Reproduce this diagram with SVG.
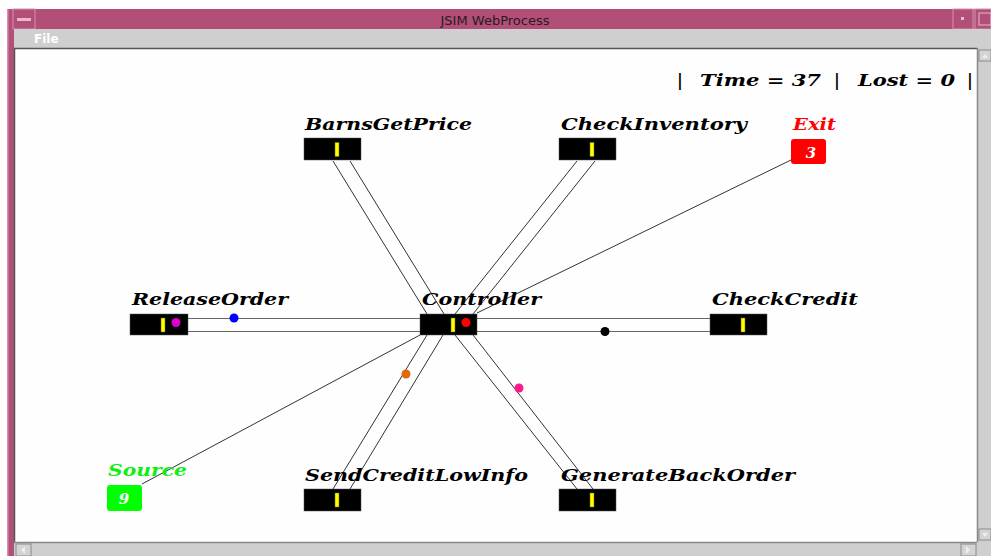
<svg xmlns="http://www.w3.org/2000/svg" width="991" height="556" viewBox="0 0 991 556">
  <style>
    .frame { fill: #b24f78; }
    .frame-hi { fill: #d98fb0; }
    .bar { fill: #cfcfcf; }
    .btn { fill: #d4d4d4; stroke: #8a8a8a; stroke-width: 1; }
    .server { fill: #000; stroke: #555; stroke-width: 0.5; }
    .queue { fill: #ffff00; stroke: #6b6b00; stroke-width: 0.5; }
    .lbl { font-family: "DejaVu Serif", "Liberation Serif", serif; font-style: italic; font-weight: bold; font-size: 16px; fill: #000; }
    .count { font-family: "DejaVu Serif", "Liberation Serif", serif; font-style: italic; font-weight: bold; font-size: 15px; fill: #fff; text-anchor: middle; }
    .link { stroke: #333; stroke-width: 1; fill: none; }
    .hlink { stroke: #666; stroke-width: 1.2; fill: none; }
    .title { font-family: "DejaVu Sans", "Liberation Sans", sans-serif; font-size: 13px; fill: #2a1a22; text-anchor: middle; }
    .menu { font-family: "DejaVu Sans", "Liberation Sans", sans-serif; font-size: 12px; font-weight: bold; fill: #fff; }
  </style>

  <!-- window chrome -->
  <rect x="0" y="0" width="991" height="556" fill="#fff"/>
  <rect class="frame" x="7" y="9" width="984" height="20"/>
  <rect class="frame" x="7" y="9" width="7" height="547"/>
  <rect class="frame-hi" x="7" y="9" width="1.5" height="547"/>
  <rect x="13" y="9" width="22" height="20" fill="none" stroke="#d98fb0" stroke-width="1"/>
  <rect x="17" y="18" width="14" height="3" fill="#e8b8cc"/>
  <rect x="953" y="9" width="20" height="20" fill="none" stroke="#d98fb0" stroke-width="1"/>
  <rect x="961" y="17" width="3" height="3" fill="#e8b8cc"/>
  <rect x="975" y="9" width="16" height="20" fill="none" stroke="#d98fb0" stroke-width="1"/>
  <rect x="979" y="13" width="12" height="12" fill="none" stroke="#e8b8cc" stroke-width="1"/>
  <text class="title" x="495" y="25">JSIM WebProcess</text>

  <rect class="bar" x="14" y="29" width="977" height="19"/>
  <text class="menu" x="34" y="43">File</text>

  <!-- canvas -->
  <rect x="14" y="48" width="963" height="494" fill="#fefefe"/>
  <line x1="14" y1="48.5" x2="977" y2="48.5" stroke="#555" stroke-width="1.5"/>
  <line x1="14.5" y1="48" x2="14.5" y2="542" stroke="#555" stroke-width="1.5"/>

  <!-- scrollbars -->
  <rect class="bar" x="977" y="48" width="14" height="508"/>
  <line x1="977.5" y1="48" x2="977.5" y2="542" stroke="#888" stroke-width="1.5"/>
  <rect class="btn" x="979" y="50" width="12" height="11"/>
  <path d="M982 58 L985 54 L988 58 Z" fill="#eee"/>
  <rect class="btn" x="979" y="529" width="12" height="11"/>
  <path d="M982 533 L985 537 L988 533 Z" fill="#eee"/>
  <rect class="bar" x="14" y="542" width="963" height="14"/>
  <line x1="14" y1="542.5" x2="977" y2="542.5" stroke="#888" stroke-width="1.5"/>
  <rect class="btn" x="16" y="544" width="15" height="12"/>
  <path d="M25 546 L21 550 L25 554 Z" fill="#eee"/>
  <rect class="btn" x="961" y="544" width="15" height="12"/>
  <path d="M966 546 L970 550 L966 554 Z" fill="#eee"/>

  <!-- status line -->
  <text class="lbl" font-size="17" xml:space="preserve"><tspan x="677" y="86">|</tspan><tspan x="700" y="86" textLength="121" lengthAdjust="spacingAndGlyphs">Time = 37</tspan><tspan x="834" y="86">|</tspan><tspan x="858" y="86" textLength="97" lengthAdjust="spacingAndGlyphs">Lost = 0</tspan><tspan x="967" y="86">|</tspan></text>

  <!-- connectors -->
  <g id="connectors">
    <line class="link" x1="333" y1="161" x2="427" y2="314"/>
    <line class="link" x1="350" y1="161" x2="444" y2="314"/>
    <line class="link" x1="577" y1="161" x2="455" y2="314"/>
    <line class="link" x1="595" y1="161" x2="473" y2="314"/>
    <line class="link" x1="791" y1="160" x2="477" y2="313"/>
    <line class="hlink" x1="188" y1="318.5" x2="420" y2="318.5"/>
    <line class="hlink" x1="188" y1="331.5" x2="420" y2="331.5"/>
    <line class="hlink" x1="477" y1="318.5" x2="710" y2="318.5"/>
    <line class="hlink" x1="477" y1="331.5" x2="710" y2="331.5"/>
    <line class="link" x1="142" y1="484" x2="420" y2="335"/>
    <line class="link" x1="427" y1="335" x2="333" y2="489"/>
    <line class="link" x1="443" y1="335" x2="350" y2="489"/>
    <line class="link" x1="455" y1="335" x2="577" y2="489"/>
    <line class="link" x1="473" y1="335" x2="593" y2="489"/>
    <!-- tokens in transit -->
    <circle cx="234" cy="318" r="4.5" fill="#0000ff"/>
    <circle cx="605" cy="331.5" r="4.5" fill="#000"/>
    <circle cx="406" cy="374" r="4.5" fill="#e06a00"/>
    <circle cx="519" cy="388" r="4.5" fill="#ff1a8c"/>
  </g>

  <!-- nodes -->
  <g id="BarnsGetPrice">
    <text class="lbl" x="305" y="130" textLength="167" lengthAdjust="spacingAndGlyphs">BarnsGetPrice</text>
    <rect class="server" x="304" y="138" width="57" height="22"/>
    <rect class="queue" x="335" y="142.5" width="4" height="14"/>
  </g>
  <g id="CheckInventory">
    <text class="lbl" x="561" y="130" textLength="186" lengthAdjust="spacingAndGlyphs">CheckInventory</text>
    <rect class="server" x="559" y="138" width="57" height="22"/>
    <rect class="queue" x="590" y="142.5" width="4" height="14"/>
  </g>
  <g id="Exit">
    <text class="lbl" x="793" y="130" textLength="43" lengthAdjust="spacingAndGlyphs" fill="#ff0000" style="fill:#ff0000">Exit</text>
    <rect x="791" y="139" width="35" height="25" rx="3" fill="#ff0000"/>
    <text class="count" x="811" y="158">3</text>
  </g>
  <g id="ReleaseOrder">
    <text class="lbl" x="132" y="305" textLength="156" lengthAdjust="spacingAndGlyphs">ReleaseOrder</text>
    <rect class="server" x="130" y="314" width="58" height="21"/>
    <rect class="queue" x="161" y="318" width="4" height="14"/>
    <circle cx="176" cy="322.5" r="4.5" fill="#dd00cc"/>
  </g>
  <g id="Controller">
    <text class="lbl" x="422" y="305" textLength="119" lengthAdjust="spacingAndGlyphs">Controller</text>
    <rect class="server" x="420" y="314" width="57" height="21"/>
    <rect class="queue" x="451" y="318" width="4" height="14"/>
    <circle cx="466" cy="322.5" r="4.5" fill="#ff0000"/>
  </g>
  <g id="CheckCredit">
    <text class="lbl" x="712" y="305" textLength="146" lengthAdjust="spacingAndGlyphs">CheckCredit</text>
    <rect class="server" x="710" y="314" width="57" height="21"/>
    <rect class="queue" x="741" y="318" width="4" height="14"/>
  </g>
  <g id="Source">
    <text class="lbl" x="108" y="476" textLength="79" lengthAdjust="spacingAndGlyphs" style="fill:#11ee11">Source</text>
    <rect x="107" y="485" width="35" height="26" rx="3" fill="#00ff00"/>
    <text class="count" x="124" y="504">9</text>
  </g>
  <g id="SendCreditLowInfo">
    <text class="lbl" x="305" y="481" textLength="223" lengthAdjust="spacingAndGlyphs">SendCreditLowInfo</text>
    <rect class="server" x="304" y="489" width="57" height="22"/>
    <rect class="queue" x="335" y="493" width="4" height="14"/>
  </g>
  <g id="GenerateBackOrder">
    <text class="lbl" x="561" y="481" textLength="234" lengthAdjust="spacingAndGlyphs">GenerateBackOrder</text>
    <rect class="server" x="559" y="489" width="57" height="22"/>
    <rect class="queue" x="590" y="493" width="4" height="14"/>
  </g>
</svg>
